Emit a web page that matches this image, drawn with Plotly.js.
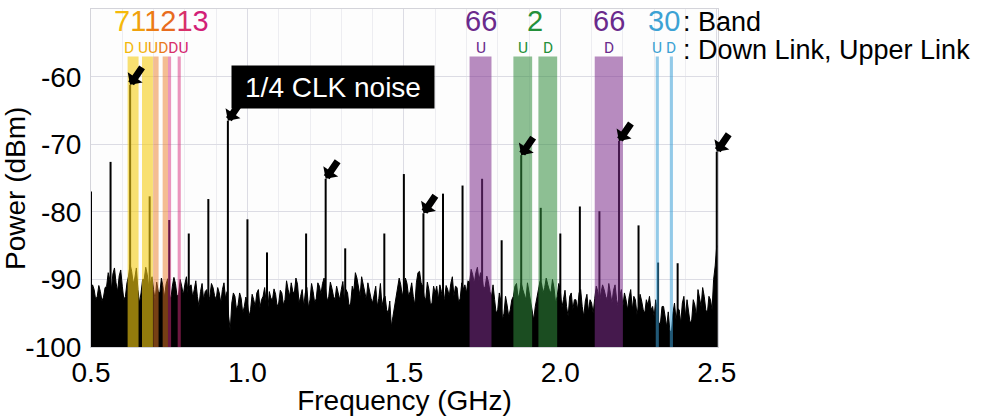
<!DOCTYPE html>
<html><head><meta charset="utf-8">
<script src="https://cdn.plot.ly/plotly-3.0.1.min.js"></script>
<style>html,body{margin:0;padding:0;background:#fff}#chart{width:1000px;height:416px}</style>
</head><body><div id="chart"></div>
<script>
// ---------- data ----------
// noise floor read at 0.01 GHz steps
const noiseFreq = [0.50,0.51,0.52,0.53,0.54,0.55,0.56,0.57,0.58,0.59,0.60,0.61,0.62,0.63,0.64,0.65,0.66,0.67,0.68,0.69,
0.70,0.71,0.72,0.73,0.74,0.75,0.76,0.77,0.78,0.79,0.80,0.81,0.82,0.83,0.84,0.85,0.86,0.87,0.88,0.89,
0.90,0.91,0.92,0.93,0.94,0.95,0.96,0.97,0.98,0.99,1.00,1.01,1.02,1.03,1.04,1.05,1.06,1.07,1.08,1.09,
1.10,1.11,1.12,1.13,1.14,1.15,1.16,1.17,1.18,1.19,1.20,1.21,1.22,1.23,1.24,1.25,1.26,1.27,1.28,1.29,
1.30,1.31,1.32,1.33,1.34,1.35,1.36,1.37,1.38,1.39,1.40,1.41,1.42,1.43,1.44,1.45,1.46,1.47,1.48,1.49,
1.50,1.51,1.52,1.53,1.54,1.55,1.56,1.57,1.58,1.59,1.60,1.61,1.62,1.63,1.64,1.65,1.66,1.67,1.68,1.69,
1.70,1.71,1.72,1.73,1.74,1.75,1.76,1.77,1.78,1.79,1.80,1.81,1.82,1.83,1.84,1.85,1.86,1.87,1.88,1.89,
1.90,1.91,1.92,1.93,1.94,1.95,1.96,1.97,1.98,1.99,2.00,2.01,2.02,2.03,2.04,2.05,2.06,2.07,2.08,2.09,
2.10,2.11,2.12,2.13,2.14,2.15,2.16,2.17,2.18,2.19,2.20,2.21,2.22,2.23,2.24,2.25,2.26,2.27,2.28,2.29,
2.30,2.31,2.32,2.33,2.34,2.35,2.36,2.37,2.38,2.39,2.40,2.41,2.42,2.43,2.44,2.45,2.46,2.47,2.48,2.49,2.50];
const noiseLevel = [-92.0,-91.5,-92.5,-91.8,-92.6,-91.0,-90.0,-89.2,-90.5,-89.5,-91.0,-92.5,-89.5,-88.8,-89.8,-91.5,-92.0,-90.0,-89.3,-90.5,
-91.5,-90.4,-92.0,-91.0,-90.7,-92.0,-91.0,-90.6,-92.2,-91.0,-90.7,-92.0,-90.8,-91.5,-92.5,-91.8,-93.0,-91.5,-92.5,-91.2,
-93.0,-92.0,-91.5,-92.8,-95.5,-93.5,-92.5,-93.8,-92.8,-94.0,-93.5,-94.5,-93.0,-92.0,-94.2,-92.5,-93.5,-91.8,-93.0,-92.2,
-93.5,-92.0,-93.0,-91.5,-90.5,-92.0,-90.7,-92.5,-94.0,-91.2,-93.0,-91.8,-92.8,-91.0,-90.6,-91.5,-92.5,-91.3,-93.0,-92.0,
-91.5,-93.2,-92.0,-93.5,-91.8,-89.8,-92.5,-90.6,-93.0,-91.8,-93.5,-91.0,-92.8,-94.0,-92.5,-95.0,-97.0,-94.0,-91.5,-90.8,
-91.3,-90.6,-91.8,-92.5,-90.5,-88.8,-91.0,-93.0,-91.5,-93.5,-92.0,-93.0,-91.8,-92.8,-91.5,-90.6,-92.5,-91.2,-92.8,-91.5,
-92.0,-90.5,-89.3,-89.0,-90.2,-89.5,-91.0,-90.3,-92.5,-93.0,-94.5,-93.2,-95.0,-93.8,-94.5,-92.5,-90.6,-92.0,-91.5,-93.0,
-91.8,-95.0,-94.0,-91.5,-90.6,-91.2,-90.8,-92.0,-91.3,-92.5,-91.6,-93.0,-94.0,-92.5,-94.5,-93.0,-92.0,-94.0,-93.2,-94.8,
-93.5,-92.8,-91.8,-92.0,-91.5,-93.0,-92.0,-91.6,-93.0,-92.5,-94.0,-93.0,-92.6,-94.5,-93.0,-94.0,-93.2,-95.0,-93.8,-94.5,
-95.5,-94.8,-96.5,-94.0,-97.0,-97.5,-95.0,-96.0,-94.5,-93.5,-95.5,-94.5,-96.0,-93.8,-91.5,-94.0,-92.5,-95.0,-93.0,-90.0,-85.0];
// noise read between those steps (0.505, 0.515, ... 2.495 GHz)
const noiseFreqMid = [0.505,0.515,0.525,0.535,0.545,0.555,0.565,0.575,0.585,0.595,0.605,0.615,0.625,0.635,0.645,0.655,0.665,0.675,0.685,0.695,
0.705,0.715,0.725,0.735,0.745,0.755,0.765,0.775,0.785,0.795,0.805,0.815,0.825,0.835,0.845,0.855,0.865,0.875,0.885,0.895,
0.905,0.915,0.925,0.935,0.945,0.955,0.965,0.975,0.985,0.995,1.005,1.015,1.025,1.035,1.045,1.055,1.065,1.075,1.085,1.095,
1.105,1.115,1.125,1.135,1.145,1.155,1.165,1.175,1.185,1.195,1.205,1.215,1.225,1.235,1.245,1.255,1.265,1.275,1.285,1.295,
1.305,1.315,1.325,1.335,1.345,1.355,1.365,1.375,1.385,1.395,1.405,1.415,1.425,1.435,1.445,1.455,1.465,1.475,1.485,1.495,
1.505,1.515,1.525,1.535,1.545,1.555,1.565,1.575,1.585,1.595,1.605,1.615,1.625,1.635,1.645,1.655,1.665,1.675,1.685,1.695,
1.705,1.715,1.725,1.735,1.745,1.755,1.765,1.775,1.785,1.795,1.805,1.815,1.825,1.835,1.845,1.855,1.865,1.875,1.885,1.895,
1.905,1.915,1.925,1.935,1.945,1.955,1.965,1.975,1.985,1.995,2.005,2.015,2.025,2.035,2.045,2.055,2.065,2.075,2.085,2.095,
2.105,2.115,2.125,2.135,2.145,2.155,2.165,2.175,2.185,2.195,2.205,2.215,2.225,2.235,2.245,2.255,2.265,2.275,2.285,2.295,
2.305,2.315,2.325,2.335,2.345,2.355,2.365,2.375,2.385,2.395,2.405,2.415,2.425,2.435,2.445,2.455,2.465,2.475,2.485,2.495];
const noiseLevelMid = [-90.8,-93.0,-90.9,-93.2,-91.2,-89.0,-91.5,-88.3,-91.8,-88.6,
-93.0,-90.5,-87.8,-90.6,-88.3,-93.5,-90.0,-88.2,-91.3,-89.6,
-93.0,-91.8,-89.8,-92.6,-89.9,-93.0,-89.7,-92.5,-90.0,-92.3,
-89.6,-91.0,-92.6,-90.2,-94.0,-90.6,-91.8,-93.5,-90.6,-92.4,
-91.2,-93.5,-90.5,-91.8,-97.5,-92.0,-94.5,-92.0,-95.0,-92.6,
-95.5,-92.2,-94.0,-91.5,-93.0,-91.2,-94.5,-92.8,-91.4,-94.0,
-91.6,-93.8,-90.2,-92.5,-91.8,-89.8,-93.5,-91.5,-92.0,-94.2,
-90.6,-93.5,-90.5,-92.2,-89.8,-93.2,-90.4,-92.5,-91.0,-93.0,
-90.3,-91.5,-94.0,-91.0,-89.0,-91.5,-89.6,-92.0,-90.5,-92.8,
-92.0,-94.0,-90.6,-92.8,-94.5,-93.2,-95.5,-92.5,-89.8,-92.5,
-89.8,-92.5,-90.5,-93.8,-89.0,-90.5,-92.6,-90.4,-93.8,-91.0,
-91.0,-90.8,-93.5,-90.9,-92.5,-89.6,-91.0,-93.5,-90.5,-90.8,
-90.2,-88.5,-90.6,-88.2,-89.0,-91.5,-89.5,-91.8,-90.8,-95.0,
-92.0,-96.0,-92.5,-95.5,-93.0,-91.0,-92.8,-90.5,-92.2,-90.5,
-93.5,-96.0,-92.8,-90.3,-92.0,-89.8,-91.6,-90.0,-93.5,-90.6,
-94.2,-91.6,-95.5,-92.0,-93.0,-94.5,-91.5,-95.5,-92.2,-93.0,
-95.0,-91.0,-93.5,-90.8,-92.5,-90.6,-93.5,-90.8,-94.0,-91.5,
-92.0,-94.5,-91.5,-92.5,-95.2,-92.2,-94.5,-93.0,-92.5,-94.0,
-93.0,-96.5,-94.0,-95.8,-94.8,-98.0,-93.5,-94.3,-96.5,-92.5,
-93.0,-96.5,-93.0,-95.5,-93.0,-91.2,-94.5,-92.5,-94.5,-88.0];

// clock harmonics (spurs)
const spikeFreq = [0.5,0.5625,0.625,0.6875,0.75,0.8125,0.875,0.9375,1.0,1.0625,1.1875,1.25,1.3125,1.4375,1.5,
1.5625,1.625,1.6875,1.75,1.8125,1.875,1.9375,2.0,2.0625,2.125,2.1875,2.25,2.3125,2.375,2.5];
const spikeLevel = [-77.0,-72.6,-61.2,-77.7,-81.2,-83.2,-78.1,-66.5,-81.1,-86.0,-83.2,-75.1,-85.4,-83.2,-74.4,
-80.2,-77.3,-76.1,-75.1,-84.2,-71.6,-79.4,-83.2,-79.2,-79.9,-69.5,-82.0,-87.5,-87.6,-71.1];

const arrowFreq = [0.625,0.9375,1.25,1.5625,1.875,2.1875,2.5];

// LTE bands
const bandName  = ['71','71','12','12','13','13','66','2','2','66','30','30'];
const bandLink  = ['D','U','U','D','D','U','U','U','D','D','U','D'];
const bandStart = [0.617,0.663,0.699,0.729,0.746,0.777,1.710,1.850,1.930,2.110,2.305,2.350];
const bandEnd   = [0.652,0.698,0.716,0.746,0.756,0.787,1.780,1.910,1.990,2.200,2.315,2.360];

const xTickVals = [0.5,1.0,1.5,2.0,2.5];
const xTickText = ['0.5','1.0','1.5','2.0','2.5'];
const yTickVals = [-100,-90,-80,-70,-60,-50];
const yTickText = ['-100','-90','-80','-70','-60','-50'];

// ---------- styles ----------
const FONT = 'Liberation Sans, Arial, Helvetica, sans-serif';
const SMALL = 'Roboto, Liberation Sans, Arial, sans-serif';
const bandFill = {'71':'rgba(245,205,20,0.6)','12':'rgba(235,125,40,0.5)','13':'rgba(215,45,125,0.5)',
                  '66':'rgba(125,45,140,0.55)','2':'rgba(50,140,60,0.55)','30':'rgba(60,160,215,0.55)'};
const bandText = {'71':'#f2b20c','12':'#ea7a1a','13':'#d42470','66':'#6a2a8c','2':'#24903a','30':'#3ca2d4'};
const BAND_TOP = -57;
const FLOOR = -100;

// ---------- traces ----------
const nPts = noiseFreq.map((f,i)=>[f,noiseLevel[i]]).concat(noiseFreqMid.map((f,i)=>[f,noiseLevelMid[i]]))
  .sort((a,b)=>a[0]-b[0]);
const baseline = {x:[noiseFreq[0], noiseFreq[noiseFreq.length-1]], y:[FLOOR, FLOOR], mode:'lines',
  line:{width:0,color:'black'}, hoverinfo:'skip', showlegend:false};
const noise = {x:nPts.map(p=>p[0]), y:nPts.map(p=>p[1]), mode:'lines', fill:'tonexty', fillcolor:'black',
  line:{color:'black', width:1}, hoverinfo:'skip', showlegend:false};
const sx = [], sy = [];
spikeFreq.forEach((f,i)=>{ sx.push(f,f,null); sy.push(FLOOR, spikeLevel[i], null); });
const spikes = {x:sx, y:sy, mode:'lines', line:{color:'black', width:2}, hoverinfo:'skip', showlegend:false};

// ---------- shapes ----------
const shapes = bandName.map((n,i)=>({type:'rect', xref:'x', yref:'y', x0:bandStart[i], x1:bandEnd[i],
  y0:FLOOR, y1:BAND_TOP, fillcolor:bandFill[n], line:{width:0}, layer:'above'}));

// ---------- annotations ----------
const ann = [];
const mid = i => (bandStart[i]+bandEnd[i])/2;
const NUM_Y = -51.8, LINK_Y = -55.75;
const span = (c,col) => `<span style="color:${col}">${c}</span>`;
// left crowded group (bands 71, 12, 13)
const grpNumColors = ['#f5b90a','#f0a20c','#ec7c14','#e86c1e','#d8306a','#d21f78'];
const grpNumText = bandName[0] + bandName[2] + bandName[4];
ann.push({xref:'x', yref:'y', x:0.7249, y:NUM_Y, showarrow:false, borderpad:0, font:{family:FONT,size:29},
  text:grpNumText.split('').map((c,k)=>span(c,grpNumColors[k])).join('')});
const grpLinkColors = ['#f2b80a','#f2b20c','#ee9a10','#ea7a1a','#d8306a','#d42470'];
const grpLinks = bandLink.slice(0,6).map((c,k)=>span(c,grpLinkColors[k]));
ann.push({xref:'x', yref:'y', x:0.7105, y:LINK_Y, showarrow:false, borderpad:0, font:{family:SMALL,size:15.5},
  text:grpLinks[0] + ' ' + grpLinks.slice(1).join('')});
// band number labels for 66 U, 2, 66 D, 30
[[6],[7,8],[9],[10,11]].forEach(idx=>{
  const x = (bandStart[idx[0]] + bandEnd[idx[idx.length-1]])/2;
  const n = bandName[idx[0]];
  ann.push({xref:'x', yref:'y', x:x, y:NUM_Y, showarrow:false, borderpad:0, text:n, font:{family:FONT,size:29,color:bandText[n]}});
});
for (let i=6;i<bandName.length;i++){
  ann.push({xref:'x', yref:'y', x:mid(i), y:LINK_Y, showarrow:false, borderpad:0, text:bandLink[i],
    font:{family:SMALL,size:15.5,color:bandText[bandName[i]]}});
}
// key texts
ann.push({xref:'x', yref:'y', x:2.389, y:-51.85, xanchor:'left', yanchor:'middle', showarrow:false, borderpad:0, text:': Band', font:{family:FONT,size:27,color:'black'}});
ann.push({xref:'x', yref:'y', x:2.389, y:-56.05, xanchor:'left', yanchor:'middle', showarrow:false, borderpad:0, text:': Down Link, Upper Link', font:{family:FONT,size:27,color:'black'}});
// arrows at highlighted spurs
arrowFreq.forEach(f=>{
  const k = spikeFreq.indexOf(f);
  ann.push({xref:'x', yref:'y', x:f, y:spikeLevel[k], text:'', showarrow:true, arrowhead:1,
    arrowwidth:7, arrowsize:0.43, arrowcolor:'black', ax:13, ay:-19, standoff:0});
});
// CLK noise box
ann.push({xref:'x', yref:'y', x:1.272, y:-61.55, showarrow:false, text:'1/4 CLK noise', bgcolor:'black',
  font:{family:FONT,size:28,color:'white'}, width:196, height:36, borderpad:3});
// y title
ann.push({xref:'paper', yref:'paper', x:-0.1196, y:0.4675, xanchor:'center', yanchor:'middle', showarrow:false, textangle:-90,
  text:'Power (dBm)', font:{family:FONT,size:28,color:'black'}});

const layout = {
  width:1000, height:416, margin:{l:91, r:282, t:9, b:69},
  paper_bgcolor:'white', plot_bgcolor:'#fdfdfd', showlegend:false,
  font:{family:FONT, color:'black'},
  xaxis:{range:[0.5,2.504], tickvals:xTickVals, ticktext:xTickText, ticks:'', showgrid:true, gridcolor:'#dcdce4', gridwidth:1,
    minor:{dtick:0.1, tick0:0.5, showgrid:true, gridcolor:'#ededf1', gridwidth:1},
    showline:true, linecolor:'#d4d4da', linewidth:1, mirror:true, zeroline:false,
    tickfont:{family:FONT,size:28,color:'black'},
    title:{text:'Frequency (GHz)', font:{family:FONT,size:28,color:'black'}, standoff:0}},
  yaxis:{range:[-100,-49.97], tickvals:yTickVals, ticktext:yTickText, ticks:'', ticklabelstandoff:3,
    showgrid:true, gridcolor:'#dcdce4', zeroline:false,
    showline:true, linecolor:'#d4d4da', linewidth:1, mirror:true,
    tickfont:{family:FONT,size:28,color:'black'}},
  shapes:shapes, annotations:ann
};
Plotly.newPlot('chart', [baseline, noise, spikes], layout, {displayModeBar:false, staticPlot:true});
</script></body></html>
